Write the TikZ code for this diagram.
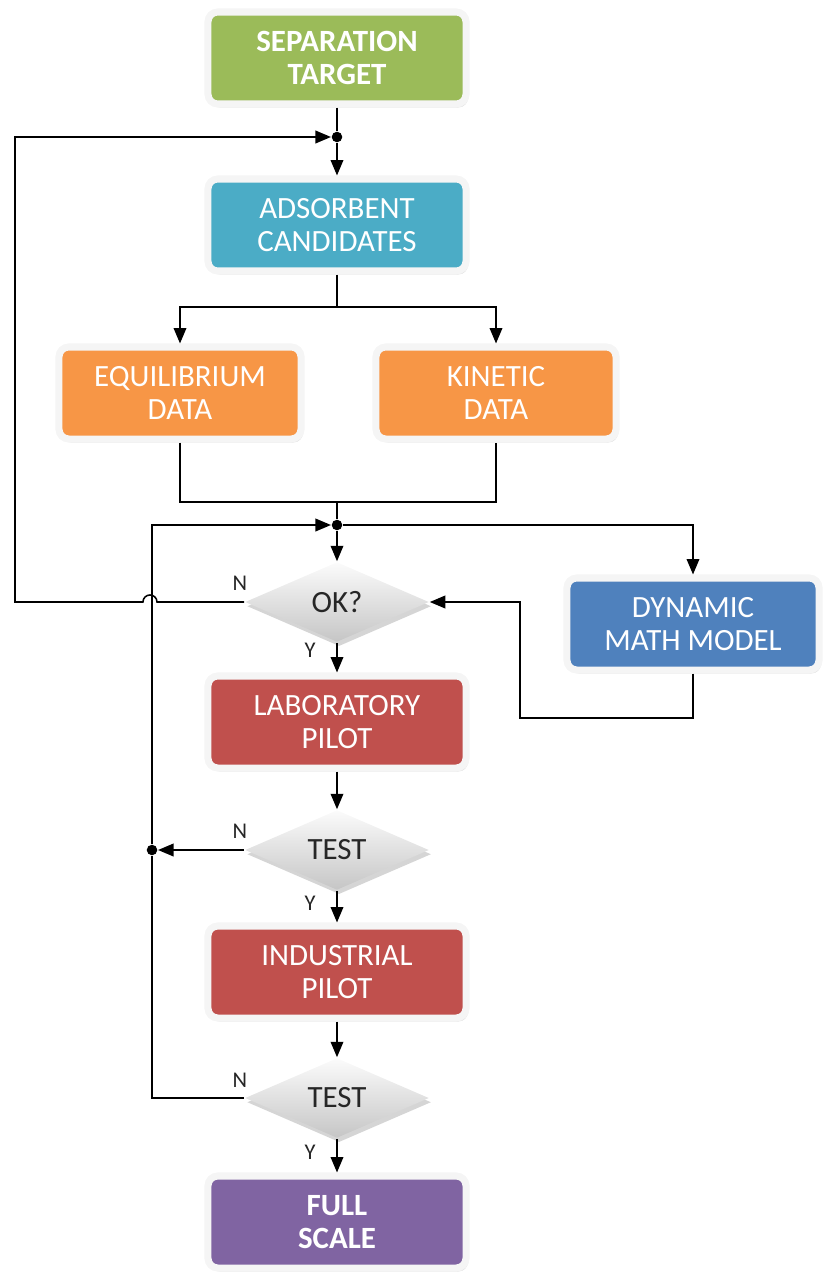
\documentclass[tikz,border=0pt]{standalone}
\usepackage{fontspec}
\setmainfont{Carlito}
\usepackage{xcolor}
\usetikzlibrary{arrows.meta,shapes.geometric,shadows}
\definecolor{sepgreen}{HTML}{9BBB59}
\definecolor{adsblue}{HTML}{4BACC6}
\definecolor{dataorange}{HTML}{F79646}
\definecolor{modelblue}{HTML}{4F81BD}
\definecolor{pilotred}{HTML}{C0504D}
\definecolor{scalepurple}{HTML}{8064A2}

\begin{document}
\begin{tikzpicture}[x=0.025cm,y=-0.025cm,line width=1.1pt,
   box/.style={rectangle,rounded corners=7pt,draw=gray!8,line width=5pt,text=white,
     align=center,minimum width=6.45cm,minimum height=2.3cm,
     font=\fontsize{22}{24}\selectfont,
     drop shadow={shadow xshift=1.5pt,shadow yshift=-2.5pt,fill=gray!45}},
   bbox/.style={box,font=\fontsize{22}{24}\selectfont\bfseries},
   test/.style={diamond,aspect=2.3,minimum width=4.6cm,minimum height=2cm,inner sep=0pt,
     top color=gray!3,bottom color=gray!45,text=black!85,
     font=\fontsize{22}{24}\selectfont,
     drop shadow={shadow xshift=1.5pt,shadow yshift=-3pt,fill=gray!65}},
   dot/.style={circle,fill=black,inner sep=0pt,minimum size=7.5pt},
   yn/.style={font=\fontsize{16}{18}\selectfont,text=black!85},
   arr/.style={-{Triangle[length=11pt,width=9pt]}}]
\useasboundingbox (0,0) rectangle (824,1275);

\node[bbox,fill=sepgreen] (target) at (337,58) {SEPARATION\\TARGET};
\node[box,fill=adsblue] (ads) at (337,225) {ADSORBENT\\CANDIDATES};
\node[box,fill=dataorange,minimum width=6.05cm] (eq) at (180,393) {EQUILIBRIUM\\DATA};
\node[box,fill=dataorange,minimum width=6.0cm] (kin) at (496,393) {KINETIC\\DATA};
\node[test] (ok) at (337,602) {OK?};
\node[box,fill=modelblue,minimum width=6.3cm] (dmm) at (693,624) {DYNAMIC\\MATH MODEL};
\node[box,fill=pilotred] (lab) at (337,722) {LABORATORY\\PILOT};
\node[test] (test1) at (337,850) {TEST};
\node[box,fill=pilotred] (ind) at (337,972) {INDUSTRIAL\\PILOT};
\node[test] (test2) at (337,1098) {TEST};
\node[bbox,fill=scalepurple] (full) at (337,1222) {FULL\\SCALE};

\node[dot] (j1) at (337,137) {};
\node[dot] (j2) at (337,525) {};
\node[dot] (j3) at (152,850) {};
\coordinate (split) at (337,307);
\coordinate (merge) at (337,502);

\node[yn] (n1) at (240,583) {N};
\node[yn] (y1) at (310,650) {Y};
\node[yn] (n2) at (240,831) {N};
\node[yn] (y2) at (310,903) {Y};
\node[yn] (n3) at (240,1080) {N};
\node[yn] (y3) at (310,1152) {Y};

\draw (target.south) -- (j1);
\draw[arr] (j1) -- (ads.north);
\draw (ads.south) -- (split);
\draw[arr] (split) -| (eq.north);
\draw[arr] (split) -| (kin.north);
\draw (eq.south) |- (merge) -| (kin.south);
\draw (merge) -- (j2);
\draw[arr] (j2) -- (ok.north);
\draw[arr] (j2) -| (dmm.north);
\draw[arr] (dmm.south) |- (520,718) |- (ok.east);
\draw[arr] (ok.west) -- (157,602) arc[start angle=0,end angle=180,radius=5pt]
   -- (15,602) |- (j1);
\draw[arr] (ok.south) -- (lab.north);
\draw[arr] (lab.south) -- (test1.north);
\draw[arr] (test1.west) -- (j3);
\draw[arr] (test1.south) -- (ind.north);
\draw[arr] (ind.south) -- (test2.north);
\draw[arr] (test2.west) -| (j3) |- (j2);
\draw[arr] (test2.south) -- (full.north);
\end{tikzpicture}
\end{document}
